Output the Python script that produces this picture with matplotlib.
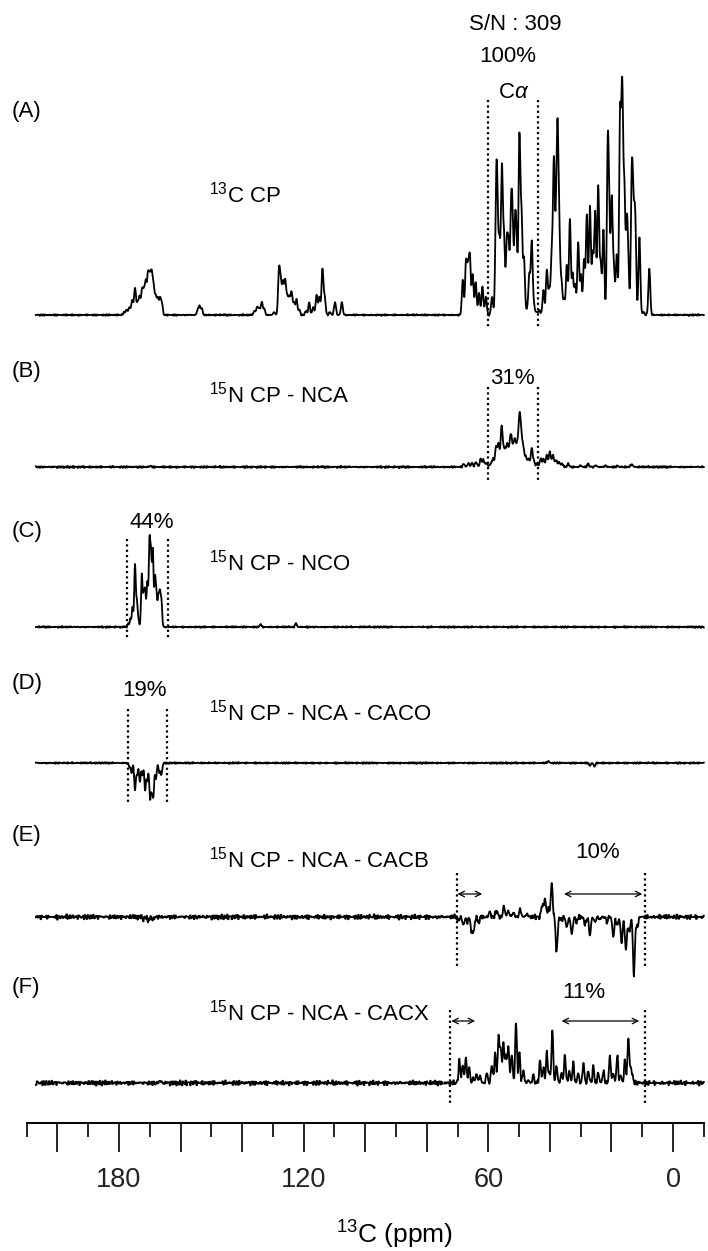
import numpy as np
import matplotlib.pyplot as plt
from matplotlib.ticker import FixedLocator, FuncFormatter

plt.rcParams['font.family'] = ['Liberation Sans', 'DejaVu Sans']
plt.rcParams['mathtext.fontset'] = 'custom'
plt.rcParams['mathtext.rm'] = 'Liberation Sans'
plt.rcParams['mathtext.it'] = 'Liberation Sans:italic'
plt.rcParams['mathtext.sf'] = 'Liberation Sans'

#%% data (peak ppm, peak height in px above baseline)

a_ppm = [178.3, 177.5, 176.6, 175.7, 174.8, 174.0, 173.3, 172.5, 171.9, 171.3, 170.6, 170.0,
         169.4, 168.8, 168.1, 167.4, 166.7, 166.1,
         154.4, 153.8, 153.1,
         136.0, 135.1, 134.4, 133.6, 132.8,
         129.6, 128.0, 127.4, 126.7, 126.0, 125.3, 124.6, 123.9, 123.1, 122.3, 121.4,
         119.2, 118.2, 116.9, 115.8, 114.9, 113.9, 113.2, 111.5, 109.8, 107.6,
         68.3, 67.25, 66.6, 66.0, 65.1, 64.1, 63.0, 61.9, 60.8, 58.8,
         57.5, 57.1, 56.4, 55.6, 54.9, 54.0, 53.4, 52.6, 52.1, 51.3, 50.8, 49.9, 49.2, 48.4,
         47.5, 46.7, 45.9, 45.2, 44.3, 43.4, 42.1, 41.0, 40.2, 39.4, 38.7, 38.0, 37.5, 36.9,
         36.2, 35.4, 34.5, 33.5, 32.6, 31.8, 30.8, 29.9, 28.9, 28.0, 27.0, 26.1, 25.3, 24.3,
         23.5, 22.6, 21.2, 20.7, 19.9, 19.2, 18.3, 17.2, 16.5, 15.8, 15.0, 14.5, 13.4, 12.9,
         12.3, 11.8, 10.9, 9.6, 7.7]
a_int = [3, 5, 8, 15, 27, 12, 18, 24, 20, 30, 37, 34,
         37, 28, 18, 16, 15, 12,
         5, 8, 6,
         4, 8, 6, 13, 6,
         3, 45, 30, 30, 33, 18, 17, 22, 12, 15, 5,
         4, 12, 8, 20, 18, 45, 18, 3, 13, 13,
         35, 52, 42, 55, 40, 32, 22, 28, 18, 18,
         95, 98, 70, 145, 75, 70, 65, 97, 80, 85, 60, 175, 95, 55,
         5, 40, 72, 10, 3, 5, 25, 45, 25, 60, 150, 70, 170, 70,
         30, 15, 50, 95, 40, 30, 72, 40, 55, 100, 108, 60, 102, 128,
         50, 85, 160, 80, 115, 45, 60, 195, 218, 120, 88, 40, 130, 85,
         95, 5, 77, 3, 47]

b_ppm = [169.9, 68.0, 66.5, 65.3, 64.0, 62.5, 61.6, 60.6, 59.3, 58.5, 57.5, 56.7, 55.7, 55.0,
         54.4, 53.8, 53.1, 52.6, 51.9, 51.3, 50.6, 49.9, 49.3, 48.6, 47.8, 46.9, 45.9,
         45.2, 44.2, 43.0, 42.1, 41.0, 40.0, 39.0, 38.0, 37.0, 36.0, 34.0, 30.0, 27.6,
         25.0, 22.0, 18.0, 13.4]
b_int = [1, 3, 4, 4, 5, 8, 7, 4, 3, 8, 20, 23, 40, 15,
         13, 20, 15, 27, 18, 23, 20, 47, 30, 18, 10, 8, 18,
         5, 3, 8, 8, 12, 15, 12, 7, 5, 3, 3, 1.5, 3,
         1.5, 1.5, 1, 3]

c_ppm = [177.0, 176.3, 175.6, 174.8, 174.2, 173.7, 172.6, 172.0, 171.5, 170.8, 170.1, 169.6,
         169.0, 168.3, 167.8, 167.2, 166.7, 166.2, 134.0, 122.5]
c_int = [3, 8, 20, 62, 25, 7, 52, 30, 35, 45, 82, 67,
         75, 47, 30, 28, 32, 25, 3, 4]

d_ppm = [176.6, 175.9, 174.8, 174.1, 173.2, 172.4, 171.5, 170.8, 169.9, 169.3, 168.8, 168.0,
         166.9, 166.2, 40.5, 27.0, 25.5]
d_int = [-4, -10, -27, -12, -19, -12, -27, -18, -36, -25, -30, -16,
         -10, -12, 2, -3, -4]

e_ppm = [172.0, 170.5, 169.0, 69.7, 68.1, 66.8, 65.4, 64.7, 63.2, 59.5, 57.3, 54.9, 53.5,
         51.9, 49.7, 47.5, 42.5, 41.6, 40.5, 39.4, 37.8, 36.2, 34.5, 32.9, 31.3, 28.6,
         27.0, 25.3, 23.7, 21.5, 19.4, 18.1, 16.7, 15.3, 14.2, 12.7, 11.6]
e_int = [-2, -4, -3, -3, -8, -5, -15, -12, -5, 5, 7, 10, 6,
         5, 8, 3, 12, 18, 8, 33, -35, -3, -10, -17, -5, -8,
         -18, -5, -2, -5, -20, -8, -25, -33, -15, -57, -10]

f_ppm = [166.7, 69.4, 68.3, 67.3, 66.2, 64.9, 63.8, 62.7, 60.5, 58.9, 57.8, 56.7, 56.0,
         55.1, 54.3, 53.5, 52.4, 51.0, 49.9, 48.6, 47.0, 45.4, 43.2, 42.1, 41.0, 40.2,
         39.2, 37.8, 36.2, 35.1, 33.7, 32.4, 30.8, 29.1, 27.5, 25.9, 24.3, 22.6, 20.5,
         19.4, 18.1, 17.0, 15.6, 14.5, 13.7, 13.1]
f_int = [2, 23, 18, 25, 15, 5, 10, 7, 10, 18, 30, 45, 35,
         40, 28, 37, 30, 60, 30, 13, 3, 8, 23, 15, 30, 10,
         53, 17, 10, 28, 12, 20, 10, 20, 12, 17, 10, 12, 27,
         10, 27, 8, 23, 45, 15, 5]

# baseline wiggle, px
wig1 = [0.3, -0.6, 0.9, -0.2, -0.8, 0.5, 0.1, -0.4, 0.7, -0.9, 0.2, 0.6, -0.3, -0.7, 0.8, 0.0,
        -0.5, 0.4, -0.1, 0.9, -0.6, 0.3, -0.8, 0.5, 0.2, -0.4, 0.7, -0.2, -0.9, 0.6, 0.1, -0.5,
        0.8, -0.3, 0.4, -0.7, 0.2]
wig2 = [-0.4, 0.7, -0.1, 0.5, -0.8, 0.3, 0.9, -0.6, 0.2, -0.3, 0.6, -0.9, 0.4, 0.1, -0.5, 0.8,
        -0.2, -0.7, 0.5, 0.0, -0.4, 0.9, -0.6, 0.3, -0.1, 0.7, -0.8, 0.2, 0.4]

# integration windows (ppm)
ca_win = [60, 44]
co_win_c = [177.5, 164.0]
co_win_d = [177.0, 164.5]
cb_win = [70.3, 9.0]
cx_win = [72.5, 9.0]
cb_arrows = [(70, 62), (35.4, 10)]
cx_arrows = [(72, 64.3), (36.2, 11)]

major_ticks = list(range(0, 201, 20))
minor_ticks = list(range(-10, 211, 20))
labelled = [180, 120, 60, 0]

#%% spectra
ppm = np.arange(207, -10.001, -0.1)

def trace(pos, amp, sig, namp, off):
    y = np.zeros_like(ppm)
    for p, a in zip(pos, amp):
        y += a * np.exp(-0.5 * ((ppm - p) / sig)**2)
    n = len(ppm) // 3 + 1
    nz = np.array([wig1[(i + off) % 37] + wig2[(i + 2 * off) % 29] for i in range(n)])
    y += namp * np.repeat(nz, 3)[:len(ppm)]
    return y

W, H = 708, 1251
fig = plt.figure(figsize=(W / 100, H / 100), dpi=100)
ax = fig.add_axes([0, 0, 1, 1])
ax.set_xlim(218.65, -11.37)
ax.set_ylim(H, 0)

# baseline (px from top), line width (ppm), noise, offset
spectra = [
    (a_ppm, a_int, 315, 0.30, 0.5, 0),
    (b_ppm, b_int, 467, 0.32, 0.6, 5),
    (c_ppm, c_int, 627, 0.24, 0.5, 11),
    (d_ppm, d_int, 763, 0.25, 0.5, 17),
    (e_ppm, e_int, 917, 0.32, 1.5, 23),
    (f_ppm, f_int, 1083, 0.28, 1.5, 31),
]
for pos, amp, base, sig, namp, off in spectra:
    ax.plot(ppm, base - trace(pos, amp, sig, namp, off), color='black', lw=1.3)

dot = dict(colors='black', linestyles=[(0, (1.0, 1.4))], lw=1.6)
ax.vlines(ca_win, 100, 327, **dot)
ax.vlines(ca_win, 387, 480, **dot)
ax.vlines(co_win_c, 539, 638, **dot)
ax.vlines(co_win_d, 709, 805, **dot)
ax.vlines(cb_win, 873, 968, **dot)
ax.vlines(cx_win, 1010, 1105, **dot)

arr = dict(arrowstyle='<->,head_length=0.4,head_width=0.2', lw=0.9, color='black',
           shrinkA=0, shrinkB=0)
for x0, x1 in cb_arrows:
    ax.annotate('', xy=(x1, 894), xytext=(x0, 894), arrowprops=arr)
for x0, x1 in cx_arrows:
    ax.annotate('', xy=(x1, 1021), xytext=(x0, 1021), arrowprops=arr)

def at(x, y):
    return x / W, 1 - y / H

fs = 16
for lab, y in zip(['(A)', '(B)', '(C)', '(D)', '(E)', '(F)'], [112, 372, 532, 683, 835, 987]):
    ax.text(*at(12, y), lab, transform=ax.transAxes, ha='left', va='center', fontsize=fs)

names = ['$^{13}$C CP', '$^{15}$N CP - NCA', '$^{15}$N CP - NCO',
         '$^{15}$N CP - NCA - CACO', '$^{15}$N CP - NCA - CACB', '$^{15}$N CP - NCA - CACX']
for lab, y in zip(names, [195, 395, 563, 713, 860, 1013]):
    ax.text(*at(209, y), lab, transform=ax.transAxes, ha='left', va='center', fontsize=fs)

for lab, x, y in [('S/N : 309', 515, 25), ('100%', 508, 57), (r'C$\alpha$', 514, 93),
                  ('31%', 512, 378), ('44%', 152, 523), ('19%', 145, 690),
                  ('10%', 598, 852), ('11%', 584, 993)]:
    ax.text(*at(x, y), lab, transform=ax.transAxes, ha='center', va='center', fontsize=fs)

# ppm scale
for s in ['top', 'left', 'right']:
    ax.spines[s].set_visible(False)
ax.spines['bottom'].set_position(('data', 1123))
ax.spines['bottom'].set_bounds(-10, 210)
ax.spines['bottom'].set_linewidth(1.4)
ax.xaxis.set_major_locator(FixedLocator(major_ticks))
ax.xaxis.set_minor_locator(FixedLocator(minor_ticks))
ax.xaxis.set_major_formatter(FuncFormatter(lambda v, p: f'{v:g}' if round(v) in labelled else ''))
ax.tick_params(axis='x', which='major', direction='out', length=21, width=1.4, pad=11,
               labelsize=19.5, colors='#222222')
ax.tick_params(axis='x', which='minor', direction='out', length=10, width=1.4, colors='#222222')
ax.yaxis.set_visible(False)
ax.text(*at(395, 1235), '$^{13}$C (ppm)', transform=ax.transAxes, ha='center', va='center',
        fontsize=19)

fig.savefig('out.png', dpi=100)
